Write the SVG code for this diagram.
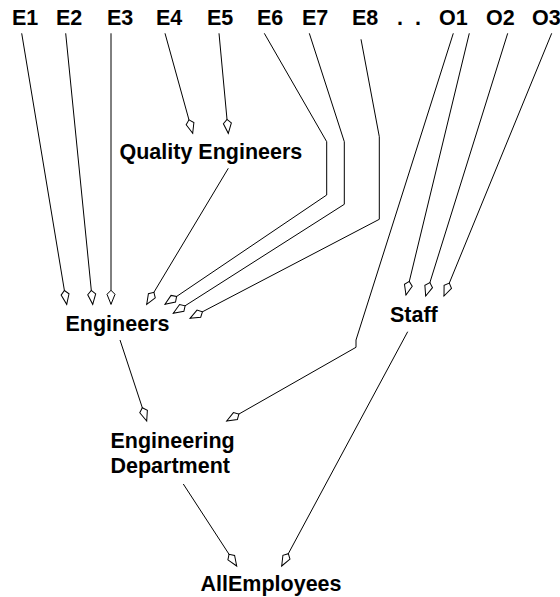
<svg xmlns="http://www.w3.org/2000/svg" width="560" height="597" viewBox="0 0 560 597">
<style>
text { font-family: "Liberation Sans", Arial, sans-serif; font-weight: bold; font-size: 21.5px; fill: #000; }
.c { fill: none; stroke: #000; stroke-width: 1; marker-end: url(#ah); }
</style>
<defs>
<marker id="ah" markerUnits="userSpaceOnUse" markerWidth="20" markerHeight="20" refX="0" refY="0" orient="auto" overflow="visible">
<path d="M0,0 L-10,-4 L-14,0 L-10,4 Z" fill="#fff" stroke="#000" stroke-width="1"/>
</marker>
</defs>
<rect width="560" height="597" fill="#fff"/>
<g id="connectors">
<polyline class="c" points="21.7,33.3 66.7,304.3"/>
<polyline class="c" points="65.7,33.3 92.7,304.3"/>
<polyline class="c" points="111,33.3 111,304.3"/>
<polyline class="c" points="165,33.3 192.7,133.3"/>
<polyline class="c" points="219,33.3 228.3,133.3"/>
<polyline class="c" points="228.3,168.3 146.7,304.3"/>
<polyline class="c" points="264.3,33.3 326.7,141.7 326.7,195 165,304.3"/>
<polyline class="c" points="309.3,33.3 344.3,141.7 344.3,204.3 173.3,313.3"/>
<polyline class="c" points="361,39.3 379.3,136.7 379.3,219.3 190,318.3"/>
<polyline class="c" points="453.3,33.3 356,340 356,347.3 226.7,421"/>
<polyline class="c" points="469.3,33.3 406,295"/>
<polyline class="c" points="507.7,33.3 425.7,296"/>
<polyline class="c" points="551.7,33.3 444,296"/>
<polyline class="c" points="120,340 146.7,421"/>
<polyline class="c" points="407.7,331.7 281.7,566"/>
<polyline class="c" points="183.3,484 236.7,566"/>
</g>
<g id="E1"><text x="12" y="25">E1</text></g>
<g id="E2"><text x="56" y="25">E2</text></g>
<g id="E3"><text x="107" y="25">E3</text></g>
<g id="E4"><text x="156" y="25">E4</text></g>
<g id="E5"><text x="207" y="25">E5</text></g>
<g id="E6"><text x="257" y="25">E6</text></g>
<g id="E7"><text x="302" y="25">E7</text></g>
<g id="E8"><text x="352" y="25">E8</text></g>
<g id="dots"><text x="397" y="25" word-spacing="6">. .</text></g>
<g id="O1"><text x="439" y="25">O1</text></g>
<g id="O2"><text x="486" y="25">O2</text></g>
<g id="O3"><text x="532" y="25">O3</text></g>
<g id="QualityEngineers"><text x="119.5" y="159">Quality Engineers</text></g>
<g id="Engineers"><text x="65.5" y="331">Engineers</text></g>
<g id="Staff"><text x="390" y="322">Staff</text></g>
<g id="EngineeringDepartment"><text x="110.5" y="448">Engineering</text><text x="110.5" y="473">Department</text></g>
<g id="AllEmployees"><text x="200.5" y="591">AllEmployees</text></g>
</svg>
